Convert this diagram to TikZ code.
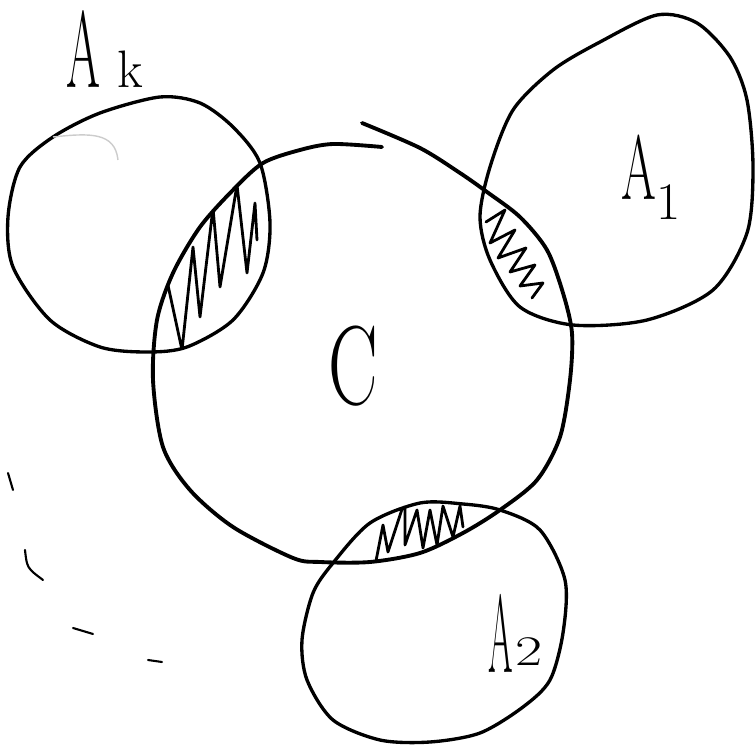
\documentclass[tikz,border=0pt]{standalone}
\usepackage{graphicx}

% outlines of the sets, in pixel units
\newcommand{\shapeAk}{plot[smooth cycle] coordinates {(160,97) (200,103) (233,127) (260,163) (270,223) (263,273) (233,320) (187,347) (147,352) (100,347) (50,320) (13,267) (8,217) (20,167) (53,137) (100,113)}}
\newcommand{\shapeAone}{plot[smooth cycle] coordinates {(657,15) (600,42) (553,70) (513,110) (490,167) (480,217) (490,260) (520,307) (573,325) (647,320) (713,290) (747,233) (753,167) (747,100) (730,57) (697,23)}}
\newcommand{\shapeAtwo}{plot[smooth cycle] coordinates {(370,523) (420,503) (463,504) (500,510) (540,530) (565,580) (563,633) (550,680) (523,707) (480,733) (430,742) (380,740) (333,720) (307,680) (302,640) (313,593) (333,563)}}
\newcommand{\shapeC}{plot[smooth cycle] coordinates {(380,136) (420,148) (460,173) (487,192) (520,217) (547,250) (563,293) (572,333) (570,380) (560,437) (537,480) (500,510) (463,533) (420,553) (370,562) (320,562) (293,558) (233,527) (190,490) (163,447) (153,380) (157,320) (173,273) (200,227) (233,190) (263,163) (300,150) (333,144)}}

\begin{document}
\begin{tikzpicture}[x=0.02cm, y=-0.02cm,
  setline/.style={line width=1.9pt, line join=round, line cap=round},
  hatchline/.style={line width=1.6pt, line join=round, line cap=round},
  lbl/.style={inner sep=0pt, anchor=base west}]
\useasboundingbox (0,0) rectangle (755,749);

% the sets
\draw[setline] \shapeAk;
\draw[setline] \shapeAone;
\draw[setline] \shapeAtwo;
\draw[line width=2.2pt, line cap=round] plot[smooth] coordinates {(362,123) (420,148) (460,173) (487,192) (520,217) (547,250) (563,293) (572,333) (570,380) (560,437) (537,480) (500,510) (463,533) (420,553) (370,562) (320,562) (293,558) (233,527) (190,490) (163,447) (153,380) (157,320) (173,273) (200,227) (233,190) (263,163) (300,150) (333,144) (382,147)};
\draw[gray!40, line width=0.8pt] (53,137) .. controls (90,133) and (115,132) .. (118,160);

% hatched parts
\begin{scope}
  \clip \shapeAk;
  \clip \shapeC;
  \draw[hatchline] (166,276) -- (182,350) -- (193,247) -- (200,317) -- (213,208) -- (220,287) -- (237,185) -- (247,273) -- (255,203) -- (257,240);
\end{scope}
\begin{scope}
  \clip \shapeAone;
  \clip \shapeC;
  \draw[hatchline] (486,222) -- (505,210) -- (490,243) -- (515,230) -- (498,258) -- (526,248) -- (510,272) -- (535,265) -- (520,286) -- (543,283) -- (532,298);
\end{scope}
\begin{scope}
  \clip \shapeAtwo;
  \clip \shapeC;
  \draw[hatchline] (375,566) -- (383,525) -- (388,552) -- (405,500) -- (405,545) -- (417,510) -- (423,548) -- (430,510) -- (437,545) -- (443,506) -- (453,537) -- (460,506) -- (463,527);
\end{scope}

% further sets, only hinted
\draw[line width=1.2pt, line cap=round] (8,473) -- (13,490);
\draw[line width=1.2pt, line cap=round] (25,550) .. controls (27,568) .. (43,580);
\draw[line width=1.2pt, line cap=round] (73,628) -- (93,634);
\draw[line width=1.2pt, line cap=round] (148,660) -- (162,662);

% labels
\node[lbl, font=\fontsize{62}{62}\selectfont] (labAk) at (66,88) {\scalebox{.45}[1]{A}\hspace{0.34cm}{\fontsize{30}{30}\selectfont k}};
\node[lbl, font=\fontsize{52}{52}\selectfont] (labAone) at (621,200) {\scalebox{.55}[1]{A}\raisebox{-11pt}{\fontsize{30}{30}\selectfont 1}};
\node[lbl, font=\fontsize{63}{63}\selectfont] (labAtwo) at (488,673) {\scalebox{.32}[1]{A}\hspace{0.06cm}\raisebox{4.5pt}{\fontsize{24}{24}\selectfont\scalebox{1.4}[1]{2}}};
\node[lbl, font=\fontsize{64}{64}\selectfont] (labC) at (328,405) {\scalebox{.66}[1]{C}};
\end{tikzpicture}
\end{document}
